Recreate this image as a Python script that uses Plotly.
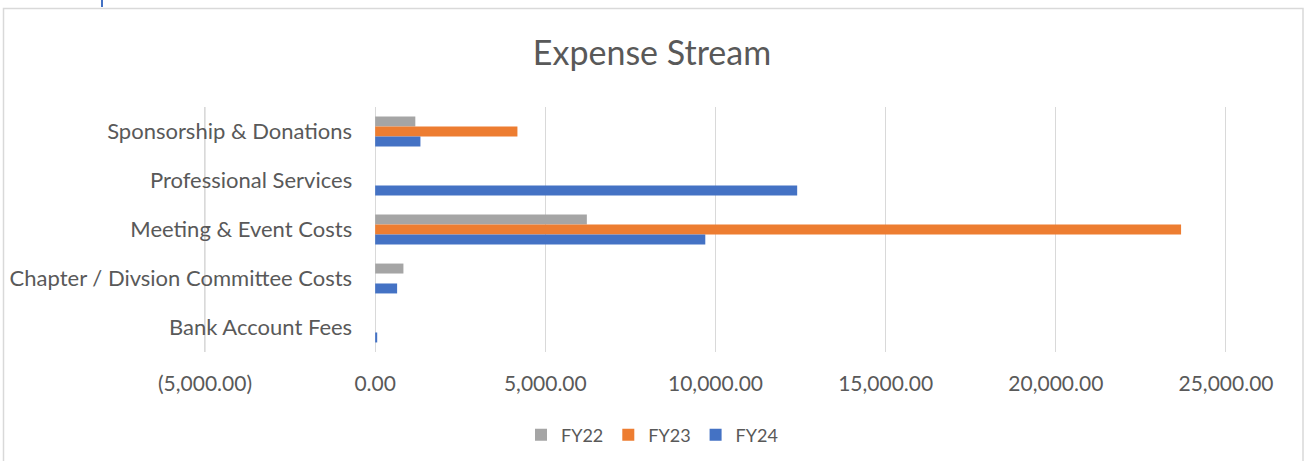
import plotly.graph_objects as go

categories = ["Sponsorship & Donations", "Professional Services", "Meeting & Event Costs",
              "Chapter / Divsion Committee Costs", "Bank Account Fees"]
fy22 = [1180, None, 6220, 830, None]
fy23 = [4180, None, 23680, None, None]
fy24 = [1330, 12400, 9700, 645, 60]
series_names = ["FY22", "FY23", "FY24"]
series_colors = ["#A5A5A5", "#ED7D31", "#4472C4"]
tick_vals = [-5000, 0, 5000, 10000, 15000, 20000, 25000]
tick_text = ["(5,000.00)", "0.00", "5,000.00", "10,000.00", "15,000.00", "20,000.00", "25,000.00"]

W, H = 1304, 461
FONT = "Lato"
TXT = "#595959"
GRID = "#D9D9D9"

fig = go.Figure()
for name, vals, col in zip(series_names, [fy22, fy23, fy24], series_colors):
    fig.add_trace(go.Bar(y=categories, x=vals, name=name, orientation="h",
                         marker=dict(color=col, line=dict(width=0))))

# pixel geometry of the plot area (value -5000 at 205 px, 25000 at 1226 px)
px_per = (1226 - 205) / 30000
xmin, xmax = -5100, 25100
x0_px = 205 - (-5000 - xmin) * px_per
x1_px = 1226 + (xmax - 25000) * px_per
top_px, bot_px = 107, 352
zero_px = 205 + 5000 * px_per

fig.update_layout(
    width=W, height=H,
    margin=dict(l=0, r=0, t=0, b=0, autoexpand=False),
    paper_bgcolor="white", plot_bgcolor="white",
    barmode="group", bargap=0.39, bargroupgap=0,
    font=dict(family=FONT, color=TXT),
    title=dict(text="Expense Stream", x=0.5, xanchor="center", y=1 - 53 / H, yanchor="middle",
               font=dict(family=FONT, size=34, color=TXT)),
    xaxis=dict(domain=[x0_px / W, x1_px / W], range=[xmin, xmax], automargin=False,
               tickvals=tick_vals, ticktext=tick_text, showgrid=True,
               gridcolor=GRID, gridwidth=1.3, zeroline=False, showline=False,
               tickfont=dict(family=FONT, size=21, color=TXT), ticks="", ticklabelstandoff=17),
    yaxis=dict(domain=[1 - bot_px / H, 1 - top_px / H], autorange="reversed", automargin=False,
               anchor="free", position=zero_px / W, showgrid=False, zeroline=False,
               showline=False, ticks="", ticklabelstandoff=23,
               tickfont=dict(family=FONT, size=22, color=TXT)),
    legend=dict(orientation="h", x=0.5, xanchor="center", y=1 - 435 / H, yanchor="middle",
                font=dict(family=FONT, size=18, color=TXT), itemwidth=30, traceorder="normal"),
    showlegend=True,
)

# gridline at the left end of the value axis
fig.add_shape(type="line", xref="x", yref="y domain", x0=tick_vals[0], x1=tick_vals[0],
              y0=0, y1=1, line=dict(color=GRID, width=1.3), layer="below")

# chart border and slide fragment
fig.add_shape(type="rect", xref="paper", yref="paper", x0=3.5 / W, x1=1303 / W,
              y0=-0.05, y1=1 - 8.5 / H, line=dict(color=GRID, width=1.5), layer="below")
fig.add_shape(type="line", xref="paper", yref="paper", x0=102 / W, x1=102 / W,
              y0=1 - 7 / H, y1=1.0, line=dict(color="#4472C4", width=2))

fig.write_html("out.html", config={"displayModeBar": False},
               post_script="document.body.style.margin='0px';")
